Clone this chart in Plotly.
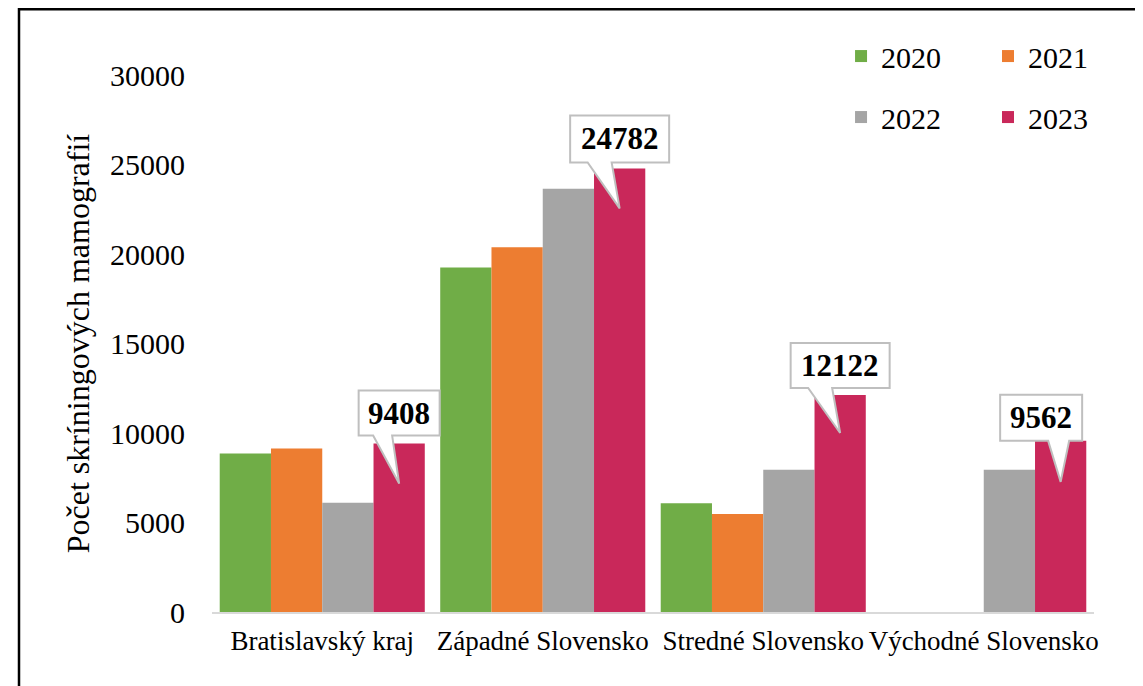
import plotly.graph_objects as go

# Regions and yearly counts of screening mammographies
regions = ["Bratislavský kraj", "Západné Slovensko", "Stredné Slovensko", "Východné Slovensko"]
years = ["2020", "2021", "2022", "2023"]
y2020 = [8850, 19250, 6070, None]
y2021 = [9130, 20380, 5480, None]
y2022 = [6100, 23640, 7940, 7940]
y2023 = [9408, 24782, 12122, 9562]
y_ticks = [0, 5000, 10000, 15000, 20000, 25000, 30000]

colors = ["#70AD47", "#ED7D31", "#A5A5A5", "#C9285A"]
font = "Liberation Serif"
bargap = 0.07

fig = go.Figure()
for i, (yr, vals) in enumerate(zip(years, [y2020, y2021, y2022, y2023])):
    fig.add_trace(go.Bar(
        x=regions, y=vals, name=yr,
        marker=dict(color=colors[i], line=dict(width=0)),
        legend="legend" if i % 2 == 0 else "legend2",
        legendgroup=yr,
    ))

# callout labels over the 2023 bars (box offset, half width, gap, height, wedge, tip drop)
callout_style = [
    (0, 40.5, 8, 45, -26, -7, 40),
    (0, 49.5, 6, 47, -32, -8, 40),
    (0, 49.5, 7, 45, -32, -8, 38),
    (-19.5, 41, 0, 46, -12.5, 8.5, 41),
]
bar_offset = (1 - bargap) * 0.375
for i, v in enumerate(y2023):
    dx, hw, g, h, wl, wr, drop = callout_style[i]
    path = (f"M {dx - hw},{g} L {wl},{g} L 0,{-drop} L {wr},{g} L {dx + hw},{g} "
            f"L {dx + hw},{g + h} L {dx - hw},{g + h} Z")
    fig.add_shape(type="path", xref="x", yref="y", xsizemode="pixel", ysizemode="pixel",
                  xanchor=i + bar_offset, yanchor=v, path=path,
                  fillcolor="white", line=dict(color="#BFBFBF", width=2))
    fig.add_annotation(x=i + bar_offset, y=v, xshift=dx, yshift=g + h / 2,
                       text=f"<b>{v}</b>", showarrow=False,
                       font=dict(family=font, size=31, color="black"))

# outer frame (only left and top edges fall inside the picture)
fig.add_shape(type="rect", xref="paper", yref="paper",
              x0=(11 - 204) / 882, x1=1.3, y0=-0.5, y1=(604 - 1.25) / 537,
              line=dict(color="black", width=2.5), fillcolor="rgba(0,0,0,0)")

fig.update_layout(
    width=1135, height=678,
    margin=dict(l=204, r=49, t=67, b=74),
    plot_bgcolor="white", paper_bgcolor="white",
    barmode="group", bargap=bargap, bargroupgap=0,
    font=dict(family=font, color="black"),
    legend=dict(x=0.7132, y=1.0837, xanchor="left", yanchor="top",
                font=dict(size=30, family=font), tracegroupgap=19,
                bgcolor="rgba(0,0,0,0)"),
    legend2=dict(x=0.8798, y=1.0837, xanchor="left", yanchor="top",
                 font=dict(size=30, family=font), tracegroupgap=19,
                 bgcolor="rgba(0,0,0,0)"),
    showlegend=True,
)
fig.update_xaxes(showline=True, linecolor="#D9D9D9", linewidth=2, showgrid=False,
                 tickfont=dict(size=27, family=font), ticks="", ticklabelstandoff=4,
                 fixedrange=True)
fig.update_yaxes(range=[0, 30000], tickvals=y_ticks, tickformat="d", showgrid=False,
                 showline=False, zeroline=False, tickfont=dict(size=30, family=font),
                 ticklabelstandoff=26,
                 title=dict(text="Počet skríningových mamografií",
                            font=dict(size=32, family=font), standoff=10))

fig.write_html("out.html")
